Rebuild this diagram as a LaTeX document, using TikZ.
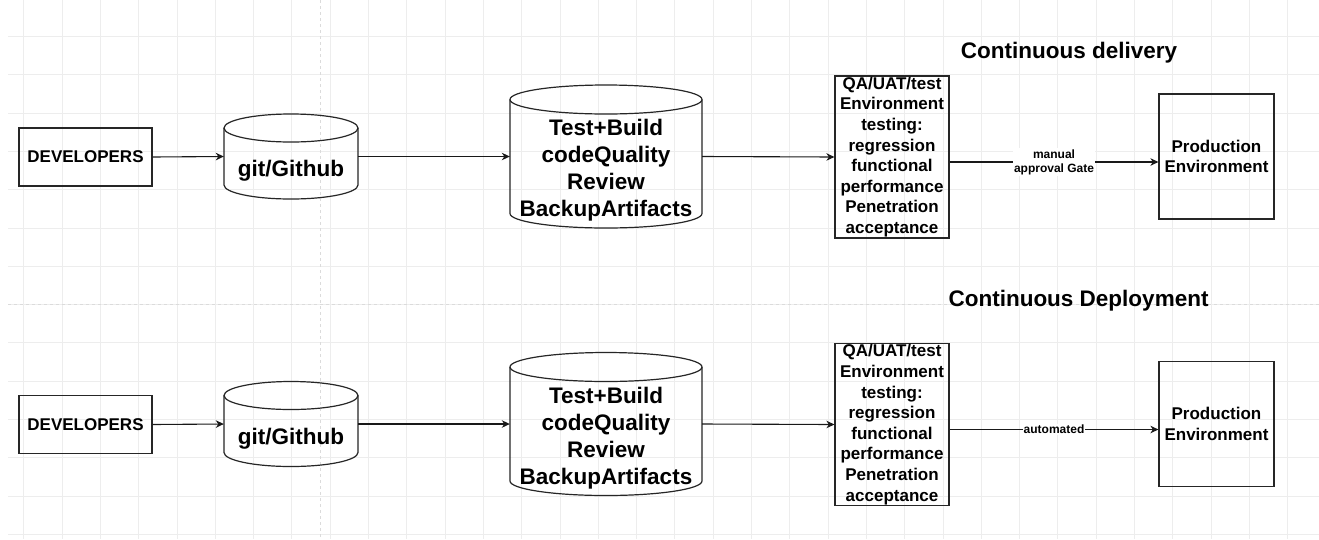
\documentclass[tikz,border=0pt]{standalone}
\usepackage{fontspec}
\setmainfont{Liberation Sans}
\usetikzlibrary{arrows.meta,calc}
\begin{document}
\begin{tikzpicture}[x=1pt,y=-1pt,
  box/.style={draw=black!85, line width=1.2pt, inner sep=0pt},
  cyl/.style={draw=black!85, line width=1.2pt},
  arr/.style={-{Stealth[length=8pt,width=7.5pt,inset=2.5pt]}, line width=1.1pt, draw=black!90},
  lbl/.style={font=\fontsize{12}{14}\selectfont\bfseries, fill=white, inner sep=1pt, align=center},
  big/.style={font=\fontsize{22.5}{27}\selectfont\bfseries, align=center},
  mid/.style={font=\fontsize{17}{20.6}\selectfont\bfseries, align=center},
  gridline/.style={draw=black!7, line width=0.8pt},
  pageline/.style={draw=black!14, dashed, line width=0.8pt}]
\useasboundingbox (0,0) rectangle (1319,539);
\fill[white] (0,0) rectangle (1319,539);
% background grid
\foreach \gx in {0,...,33} \draw[gridline] ({23.7+38.3*\gx},0) -- ({23.7+38.3*\gx},539);
\foreach \gy in {0,...,13} \draw[gridline] (8,{36.4+38.3*\gy}) -- (1319,{36.4+38.3*\gy});
\draw[pageline] (320,0) -- (320,539);
\draw[pageline] (8,304.5) -- (1319,304.5);

% titles
\node[big] (title1) at (1069,53) {Continuous delivery};
\node[big] (title2) at (1078.5,301) {Continuous Deployment};

% ===== top row =====
\node[box, mid, minimum width=133pt, minimum height=58pt] (dev1) at (85.5,157) {DEVELOPERS};

\draw[cyl] (224,128) -- (224,185) arc[start angle=180, end angle=0, x radius=67, y radius=14] -- (358,128);
\draw[cyl] (291,128) ellipse [x radius=67, y radius=14];
\node[minimum width=134pt, minimum height=85pt, inner sep=0pt] (git1) at (291,156.5) {};
\node[big] (gittxt1) at (291,171) {git/Github};

\draw[cyl] (510,99.5) -- (510,213.5) arc[start angle=180, end angle=0, x radius=96, y radius=14.5] -- (702,99.5);
\draw[cyl] (606,99.5) ellipse [x radius=96, y radius=14.5];
\node[minimum width=192pt, minimum height=143pt, inner sep=0pt] (tb1) at (606,156.5) {};
\node[big] (tbtxt1) at (606,170.5) {Test+Build\\codeQuality\\Review\\BackupArtifacts};

\node[box, minimum width=114pt, minimum height=162pt] (qa1) at (892,157) {};
\node[mid, inner sep=0pt] (qatxt1) at (892,157) {QA/UAT/test\\Environment\\testing:\\regression\\functional\\performance\\Penetration\\acceptance};

\node[box, mid, minimum width=115pt, minimum height=125pt] (prod1) at (1216.5,156.5) {Production\\Environment};

\draw[arr] (dev1.east) -- (git1.west);
\draw[arr] (git1.east) -- (tb1.west);
\draw[arr] (tb1.east) -- (qa1.west);
\draw[arr] ($(qa1.east)+(0,5)$) -- node[lbl] (lab1) {manual\\approval Gate} ($(prod1.west)+(0,5.5)$);

% ===== bottom row =====
\node[box, mid, minimum width=133pt, minimum height=58pt] (dev2) at (85.5,424.5) {DEVELOPERS};

\draw[cyl] (224,395.5) -- (224,452.5) arc[start angle=180, end angle=0, x radius=67, y radius=14] -- (358,395.5);
\draw[cyl] (291,395.5) ellipse [x radius=67, y radius=14];
\node[minimum width=134pt, minimum height=85pt, inner sep=0pt] (git2) at (291,424) {};
\node[big] (gittxt2) at (291,438.5) {git/Github};

\draw[cyl] (510,367) -- (510,481) arc[start angle=180, end angle=0, x radius=96, y radius=14.5] -- (702,367);
\draw[cyl] (606,367) ellipse [x radius=96, y radius=14.5];
\node[minimum width=192pt, minimum height=143pt, inner sep=0pt] (tb2) at (606,424) {};
\node[big] (tbtxt2) at (606,438) {Test+Build\\codeQuality\\Review\\BackupArtifacts};

\node[box, minimum width=114pt, minimum height=162pt] (qa2) at (892,424.5) {};
\node[mid, inner sep=0pt] (qatxt2) at (892,424.5) {QA/UAT/test\\Environment\\testing:\\regression\\functional\\performance\\Penetration\\acceptance};

\node[box, mid, minimum width=115pt, minimum height=125pt] (prod2) at (1216.5,424) {Production\\Environment};

\draw[arr] (dev2.east) -- (git2.west);
\draw[arr] (git2.east) -- (tb2.west);
\draw[arr] (tb2.east) -- (qa2.west);
\draw[arr] ($(qa2.east)+(0,5)$) -- node[lbl] (lab2) {automated} ($(prod2.west)+(0,5.5)$);
\end{tikzpicture}
\end{document}
